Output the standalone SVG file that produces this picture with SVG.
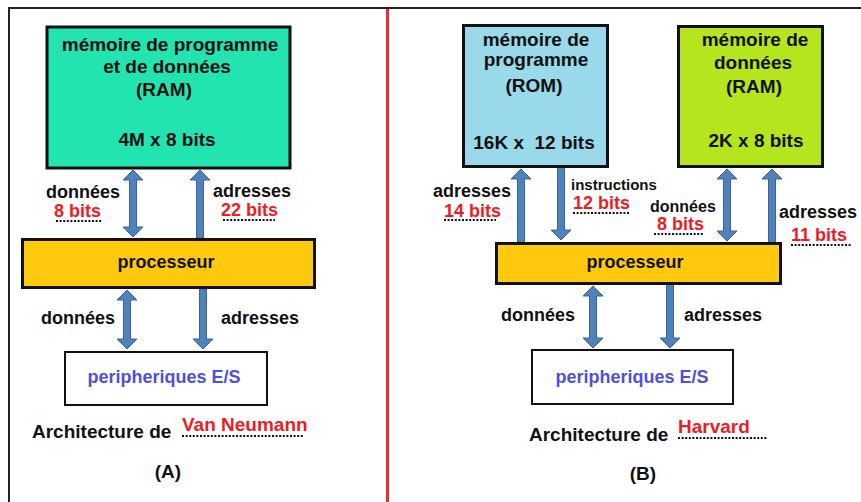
<svg xmlns="http://www.w3.org/2000/svg" width="861" height="502" viewBox="0 0 861 502">
<style>
text{font-family:"Liberation Sans",Arial,sans-serif;font-weight:bold;font-size:18px;fill:#111}
.c{text-anchor:middle}
.b{font-size:19px}
.red{fill:#ed1c24}
.blue{fill:#5050d8}
.sm{font-size:15px}
.md{font-size:16px}
.box{stroke:#111;stroke-width:3}
.arr{fill:#4f81bd;stroke:#3a6596;stroke-width:1}
.dots{stroke:#111;stroke-width:2;stroke-dasharray:2 1.6}
</style>
<rect x="0" y="0" width="861" height="502" fill="#fff"/>
<g id="frame">
<path d="M9,502 V8 H861" fill="none" stroke="#222" stroke-width="2"/>
<line x1="387.5" y1="9" x2="387.5" y2="502" stroke="#ee2a35" stroke-width="3"/>
</g>
<g id="connectors">
<path class="arr" d="M133,170 L143,180 L136.5,180 L136.5,227 L143,227 L133,237 L123,227 L129.5,227 L129.5,180 L123,180 Z"/>
<path class="arr" d="M200,170 L210,180 L203.5,180 L203.5,238 L196.5,238 L196.5,180 L190,180 Z"/>
<path class="arr" d="M127,290 L137,300 L130.5,300 L130.5,339 L137,339 L127,349 L117,339 L123.5,339 L123.5,300 L117,300 Z"/>
<path class="arr" d="M203,349 L213,339 L206.5,339 L206.5,289 L199.5,289 L199.5,339 L193,339 Z"/>
<path class="arr" d="M521,169 L531,179 L524.5,179 L524.5,243 L517.5,243 L517.5,179 L511,179 Z"/>
<path class="arr" d="M561,240 L571,230 L564.5,230 L564.5,167 L557.5,167 L557.5,230 L551,230 Z"/>
<path class="arr" d="M727,169 L737,179 L730.5,179 L730.5,231 L737,231 L727,241 L717,231 L723.5,231 L723.5,179 L717,179 Z"/>
<path class="arr" d="M772,169 L782,179 L775.5,179 L775.5,243 L768.5,243 L768.5,179 L762,179 Z"/>
<path class="arr" d="M593,286 L603,296 L596.5,296 L596.5,338 L603,338 L593,348 L583,338 L589.5,338 L589.5,296 L583,296 Z"/>
<path class="arr" d="M670,348 L680,338 L673.5,338 L673.5,284 L666.5,284 L666.5,338 L660,338 Z"/>
</g>
<g id="ramA">
<rect class="box" x="47" y="27" width="243" height="141" fill="#22e4b0"/>
<text class="c b" x="170" y="51">mémoire de programme</text>
<text class="c b" x="167" y="73">et de données</text>
<text class="c b" x="164" y="96">(RAM)</text>
<text class="c b" x="167" y="146">4M x 8 bits</text>
</g>
<g id="procA">
<rect class="box" x="22.5" y="239.5" width="292" height="48" fill="#ffc90e"/>
<text class="c" x="166" y="268">processeur</text>
</g>
<g id="perA">
<rect x="65" y="352" width="202" height="53" fill="#fff" stroke="#111" stroke-width="2"/>
<text class="c blue" x="164" y="383">peripheriques E/S</text>
</g>
<g id="labelsA">
<text x="46" y="198">données</text>
<text class="red" x="54" y="217">8 bits</text>
<line class="dots" x1="56" y1="221" x2="102" y2="221"/>
<text x="213" y="197">adresses</text>
<text class="red" x="221" y="216">22 bits</text>
<line class="dots" x1="223" y1="220" x2="275" y2="220"/>
<text x="41" y="324">données</text>
<text x="221" y="324">adresses</text>
<text class="b" x="32" y="438">Architecture de</text>
<text class="red b" x="182" y="431">Van Neumann</text>
<line class="dots" x1="182" y1="436" x2="304" y2="436"/>
<text class="c" x="168" y="478" style="font-size:19px">(A)</text>
</g>
<g id="rom">
<rect class="box" x="463.5" y="25.5" width="144" height="141" fill="#99d9ea"/>
<text class="c b" x="536" y="46">mémoire de</text>
<text class="c b" x="536" y="66">programme</text>
<text class="c b" x="534" y="92">(ROM)</text>
<text class="c b" x="534" y="149" xml:space="preserve">16K x  12 bits</text>
</g>
<g id="ramB">
<rect class="box" x="678.5" y="26.5" width="144" height="140" fill="#b5e61d"/>
<text class="c b" x="755" y="46">mémoire de</text>
<text class="c b" x="753" y="69">données</text>
<text class="c b" x="754" y="93">(RAM)</text>
<text class="c b" x="756" y="147">2K x 8 bits</text>
</g>
<g id="procB">
<rect class="box" x="496.5" y="243.5" width="284" height="40" fill="#ffc90e"/>
<text class="c" x="635" y="268">processeur</text>
</g>
<g id="perB">
<rect x="532" y="350" width="201" height="54" fill="#fff" stroke="#111" stroke-width="2"/>
<text class="c blue" x="632" y="383">peripheriques E/S</text>
</g>
<g id="labelsB">
<text x="433" y="197">adresses</text>
<text class="red" x="444" y="217">14 bits</text>
<line class="dots" x1="444" y1="220" x2="496" y2="220"/>
<text class="sm" x="571" y="190">instructions</text>
<text class="red" x="573" y="209">12 bits</text>
<line class="dots" x1="573" y1="213" x2="630" y2="213"/>
<text class="md" x="650" y="212">données</text>
<text class="red" x="657" y="230">8 bits</text>
<line class="dots" x1="654" y1="234" x2="703" y2="234"/>
<text x="779" y="218">adresses</text>
<text class="red" x="791" y="241">11 bits</text>
<line class="dots" x1="791" y1="245" x2="851" y2="245"/>
<text x="501" y="321">données</text>
<text x="684" y="321">adresses</text>
<text class="b" x="529" y="441">Architecture de</text>
<text class="red b" x="678" y="433">Harvard</text>
<line class="dots" x1="678" y1="438" x2="767" y2="438"/>
<text class="c" x="643" y="480" style="font-size:19px">(B)</text>
</g>
</svg>
